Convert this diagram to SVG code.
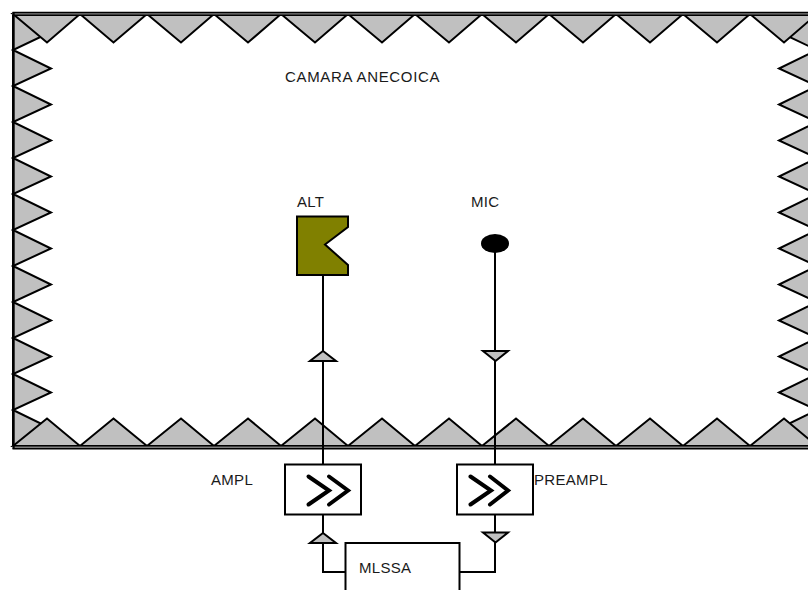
<svg xmlns="http://www.w3.org/2000/svg" width="808" height="590" viewBox="0 0 808 590">
<style>
.t{fill:#C0C0C0;stroke:#000;stroke-width:2;stroke-linejoin:miter}
.l{fill:none;stroke:#000;stroke-width:2}
.f{fill:none;stroke:#000;stroke-width:1.500}
.b{fill:#fff;stroke:#000;stroke-width:2}
.c{fill:none;stroke:#000;stroke-width:4;stroke-linecap:round;stroke-linejoin:miter}
text{font-family:"Liberation Sans",Arial,sans-serif;font-size:15px;fill:#1a1a1a;letter-spacing:.3px}
</style>
<rect width="808" height="590" fill="#fff"/>
<g id="chamber">
<path class="t" d="M13 14L51 32L13 50L51 68.500L13 86L51 104.500L13 122L51 140.500L13 158L51 176.500L13 194L51 212.500L13 230L51 248.500L13 266L51 284.500L13 302L51 320.500L13 338L51 356.500L13 374L51 392.500L13 410L51 428.500L13 446Z"/>
<path class="t" d="M817 14L779 32L817 50L779 68.500L817 86L779 104.500L817 122L779 140.500L817 158L779 176.500L817 194L779 212.500L817 230L779 248.500L817 266L779 284.500L817 302L779 320.500L817 338L779 356.500L817 374L779 392.500L817 410L779 428.500L817 446Z"/>
<path class="t" d="M13 14L47 42.500L80 14L113.500 42.500L147 14L181 42.500L214 14L248 42.500L281 14L315 42.500L348 14L382 42.500L415 14L449 42.500L482 14L516 42.500L549 14L583 42.500L616 14L650 42.500L683 14L717 42.500L750 14L784 42.500L817 14Z"/>
<path class="t" d="M13 446L47 418.500L80 446L113.500 418.500L147 446L181 418.500L214 446L248 418.500L281 446L315 418.500L348 446L382 418.500L415 446L449 418.500L482 446L516 418.500L549 446L583 418.500L616 446L650 418.500L683 446L717 418.500L750 446L784 418.500L817 446Z"/>
<path d="M12.500 13H808V15H12.500ZM12.500 446H808V448.500H12.500Z" fill="#808080"/>
<path class="f" d="M12.500 12.500H808M12.500 15.200H808M12.500 445.800H808M12.500 448.700H808"/>
<path class="l" d="M13.700 12V449"/>
<text x="285" y="82" style="letter-spacing:.68px">CAMARA ANECOICA</text>
</g>
<g id="connectors">
<path class="l" d="M323 275V464M495 250V464M323 515V572H347M495 515V572H459"/>
<path class="t" d="M323 351L336 361H310Z"/>
<path class="t" d="M483 351H508L495.500 361Z"/>
<path class="t" d="M323 533L336 543H310Z"/>
<path class="t" d="M483 532.500H508L495.500 542.500Z"/>
</g>
<g id="alt">
<path d="M297 216.500H348V227L325 244.500L348 265V275H297Z" fill="#808000" stroke="#000" stroke-width="2"/>
<text x="297" y="207">ALT</text>
</g>
<g id="mic">
<ellipse cx="495" cy="243.500" rx="14" ry="9.500" fill="#000"/>
<text x="471" y="207">MIC</text>
</g>
<g id="ampl">
<rect class="b" x="285" y="464.500" width="76" height="50"/>
<path class="c" d="M308.500 476.500L329 490.500L308.500 504.500M329 476.500L348 490.500L329 504.500"/>
<text x="211" y="485">AMPL</text>
</g>
<g id="preampl">
<rect class="b" x="457" y="464.500" width="76" height="50"/>
<path class="c" d="M470.500 476.500L491 490.500L470.500 504.500M490 476.500L508 490.500L490 504.500"/>
<text x="534" y="485">PREAMPL</text>
</g>
<g id="mlssa">
<path class="b" d="M345.500 592V543H459.500V592"/>
<text x="359" y="573">MLSSA</text>
</g>
</svg>
